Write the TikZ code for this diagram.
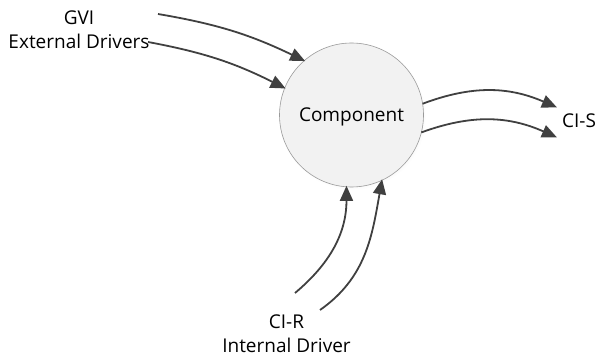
\documentclass[tikz,border=0pt]{standalone}
\usepackage{fontspec}
\setmainfont{Open Sans}
\usetikzlibrary{arrows.meta,shadows}
\definecolor{linegray}{HTML}{404040}
\definecolor{fillgray}{HTML}{F2F2F2}
\definecolor{rimgray}{HTML}{9A9A9A}
\tikzset{
  lbl/.style={anchor=base, inner sep=0pt, font=\fontsize{19}{22}\selectfont, text=black},
  flow/.style={draw=linegray, line width=1.8pt, -{Triangle[length=15pt,width=13pt]}, shorten >=-1pt},
  comp/.style={circle, draw=rimgray, line width=0.6pt, fill=fillgray,
    minimum size=144pt, inner sep=0pt, outer sep=0pt,
    circular drop shadow={shadow xshift=1pt, shadow yshift=-1.5pt, shadow scale=1.02, opacity=0.12}}
}
\begin{document}
\begin{tikzpicture}[x=1pt,y=1pt]
  \useasboundingbox (0,0) rectangle (596,358);

  % central component
  \node[comp] (comp) at (351.5,243) {};
  \node[lbl] (comptext) at (351.5,236) {Component};

  % labels
  \node[lbl] (gvi) at (79,333) {GVI};
  \node[lbl] (ext) at (79,309) {External Drivers};
  \node[lbl] (cis) at (579,230) {CI-S};
  \node[lbl] (cir) at (286.5,29) {CI-R};
  \node[lbl] (intd) at (286.5,5) {Internal Driver};

  % connector ends
  \coordinate (e1) at (158,344);
  \coordinate (e2) at (148,316);
  \coordinate (s1) at (556,251);
  \coordinate (s2) at (556,221);
  \coordinate (r1) at (295,65);
  \coordinate (r2) at (320,48);

  % external drivers into the component
  \draw[flow] (e1) to[bend left=8] (comp.131);
  \draw[flow] (e2) to[bend left=8] (comp.158);

  % outputs towards CI-S
  \draw[flow] (comp.9.5) to[bend left=22] (s1);
  \draw[flow] (comp.-14) to[bend left=22] (s2);

  % internal drivers from below
  \draw[flow] (r1) to[out=40, in=-90] (comp.266.5);
  \draw[flow] (r2) to[out=35, in=-100] (comp.295);
\end{tikzpicture}
\end{document}
